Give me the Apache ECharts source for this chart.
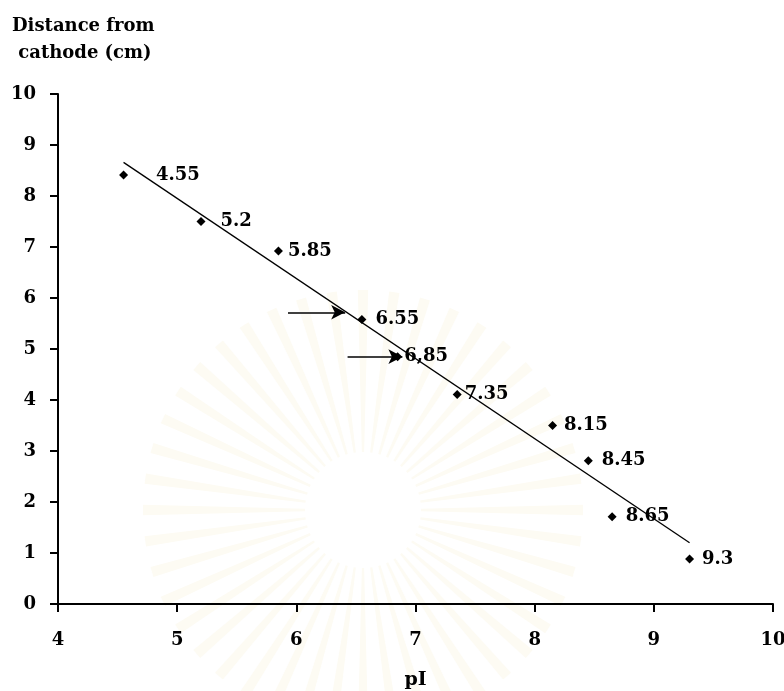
<!DOCTYPE html>
<html>
<head>
<meta charset="utf-8">
<script src="https://cdn.jsdelivr.net/npm/echarts@6/dist/echarts.min.js"></script>
<style>
  html, body { margin: 0; padding: 0; background: #ffffff; }
  #chart { width: 784px; height: 691px; }
</style>
</head>
<body>
<div id="chart"></div>
<script>
// pI of each protein and its migration distance from the cathode
const pIValues = [4.55, 5.2, 5.85, 6.55, 6.85, 7.35, 8.15, 8.45, 8.65, 9.3];
const distances = [8.41, 7.50, 6.92, 5.58, 4.85, 4.11, 3.50, 2.81, 1.71, 0.88];
const pointLabels = ['4.55', '5.2', '5.85', '6.55', '6,85', '7.35', '8.15', '8.45', '8.65', '9.3'];
// horizontal label offsets (px) to the right of each point
const labelShift = [23, 10, 0, 4, -3, -2, 2, 4, 4, 3];

// fitted trend line end points
const trendX = [4.55, 9.3];
const trendY = [8.66, 1.20];

// arrows marking the two unknown samples: [fromX, toX, y]
const arrowA = [5.93, 6.41, 5.72];
const arrowB = [6.43, 6.89, 4.85];

const xTicks = [4, 5, 6, 7, 8, 9, 10];
const yTicks = [0, 1, 2, 3, 4, 5, 6, 7, 8, 9, 10];

const FONT = '"DejaVu Serif", "Liberation Serif", serif';

const chart = echarts.init(document.getElementById('chart'), null, { renderer: 'canvas' });

// faint sunburst emblem in the background
function sunburst(cx, cy, r0, r1, n) {
  const items = [];
  for (let i = 0; i < n; i++) {
    const a = (i / n) * Math.PI * 2;
    const w = Math.PI / n * 0.55;
    const pts = [
      [cx + r0 * Math.cos(a - w * 0.5), cy + r0 * Math.sin(a - w * 0.5)],
      [cx + r1 * Math.cos(a - w * 0.6), cy + r1 * Math.sin(a - w * 0.6)],
      [cx + r1 * Math.cos(a + w * 0.6), cy + r1 * Math.sin(a + w * 0.6)],
      [cx + r0 * Math.cos(a + w * 0.5), cy + r0 * Math.sin(a + w * 0.5)]
    ];
    items.push({
      type: 'polygon', silent: true, z: -10,
      shape: { points: pts },
      style: { fill: '#fdfbf3' }
    });
  }
  return items;
}

const seriesPoints = pIValues.map((x, i) => ({
  value: [x, distances[i]],
  label: { offset: [labelShift[i], 0] }
}));

chart.setOption({
  backgroundColor: '#ffffff',
  animation: false,
  graphic: sunburst(363, 510, 58, 220, 44),
  grid: { left: 58, right: 11, top: 94, bottom: 87, containLabel: false, outerBoundsMode: 'none' },
  xAxis: {
    type: 'value', min: xTicks[0], max: xTicks[xTicks.length - 1], interval: 1,
    name: 'pI', nameLocation: 'middle', nameGap: 67,
    nameTextStyle: { fontFamily: FONT, fontWeight: 'bold', fontSize: 19, color: '#000' },
    axisLine: { show: true, onZero: false, lineStyle: { color: '#000', width: 2 } },
    axisTick: { show: true, length: 8, inside: false, lineStyle: { color: '#000', width: 2 } },
    axisLabel: { fontFamily: FONT, fontWeight: 'bold', fontSize: 18, color: '#000', margin: 27 },
    splitLine: { show: false }
  },
  yAxis: {
    type: 'value', min: yTicks[0], max: yTicks[yTicks.length - 1], interval: 1,
    axisLine: { show: true, onZero: false, lineStyle: { color: '#000', width: 2 } },
    axisTick: { show: true, length: 8, inside: false, lineStyle: { color: '#000', width: 2 } },
    axisLabel: { fontFamily: FONT, fontWeight: 'bold', fontSize: 18, color: '#000', margin: 22 },
    splitLine: { show: false }
  },
  title: {
    text: 'Distance from\n cathode (cm)',
    left: 7, top: 8,
    textStyle: { fontFamily: FONT, fontWeight: 'bold', fontSize: 18, color: '#000', lineHeight: 27 }
  },
  series: [
    {
      type: 'line',
      data: trendX.map((x, i) => [x, trendY[i]]),
      symbol: 'none',
      lineStyle: { color: '#000', width: 1.3 },
      z: 2
    },
    {
      type: 'scatter',
      data: seriesPoints,
      symbol: 'diamond',
      symbolSize: 9,
      itemStyle: { color: '#000', opacity: 1 },
      label: {
        show: true, position: 'right',
        formatter: p => pointLabels[p.dataIndex],
        fontFamily: FONT, fontWeight: 'bold', fontSize: 18, color: '#000'
      },
      z: 3,
      markLine: {
        silent: true,
        symbol: ['none', 'arrow'],
        symbolSize: [11, 14],
        label: { show: false },
        lineStyle: { color: '#000', width: 1.5, type: 'solid' },
        data: [
          [{ coord: [arrowA[0], arrowA[2]] }, { coord: [arrowA[1], arrowA[2]] }],
          [{ coord: [arrowB[0], arrowB[2]] }, { coord: [arrowB[1], arrowB[2]] }]
        ]
      }
    }
  ]
});
</script>
</body>
</html>
